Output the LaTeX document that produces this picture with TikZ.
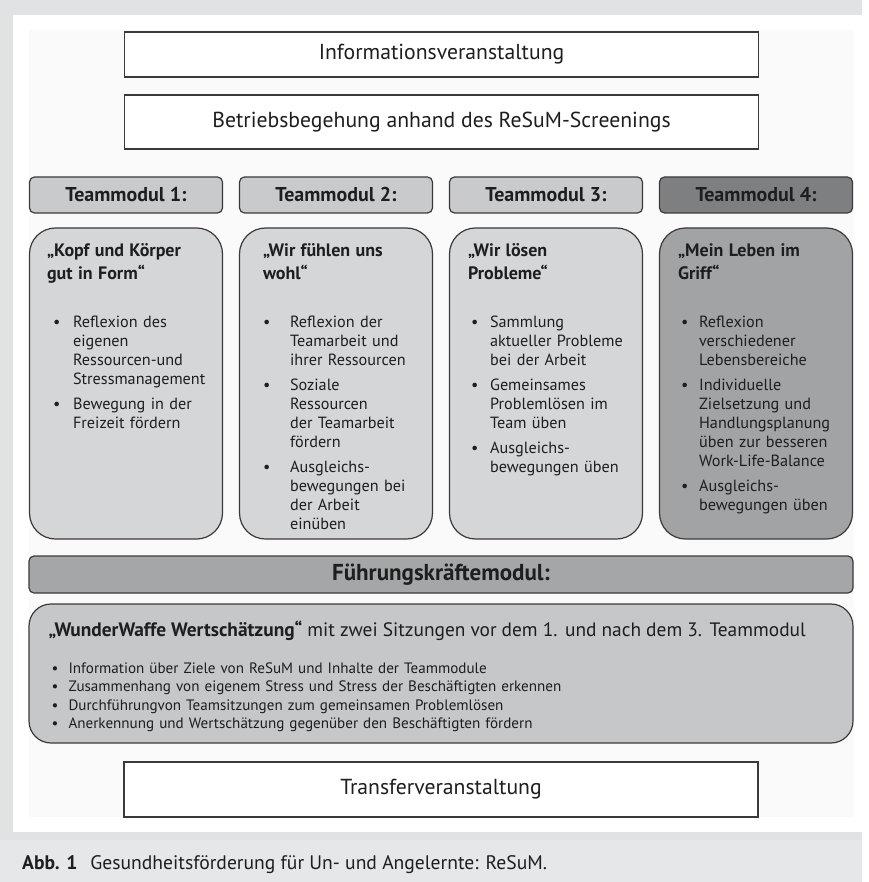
\documentclass[tikz,border=0pt]{standalone}
\usepackage{fontspec}
\setmainfont{PT Sans}
\usepackage{tikz}
\usetikzlibrary{positioning}
\definecolor{rahmen}{HTML}{E1E2E3}
\definecolor{leiste}{HTML}{E6E7E8}
\definecolor{grund}{HTML}{FAFAFA}
\definecolor{rand}{HTML}{3A3A3A}
\definecolor{schrift}{HTML}{1E1E1E}
\definecolor{kopfhell}{HTML}{C9CACC}
\definecolor{kopfdunkel}{HTML}{7E7F81}
\definecolor{modhell}{HTML}{D5D6D8}
\definecolor{moddunkel}{HTML}{A2A3A5}
\definecolor{fuehrung}{HTML}{A5A6A8}
\definecolor{wunder}{HTML}{C6C7C9}
\newcommand{\pkt}[3]{\par\noindent\hangindent=\dimexpr#1+#2\relax\hangafter=1\hspace*{#1}\makebox[#2][l]{\textbullet}#3\par}
\newcommand{\titel}[1]{{\noindent\bfseries\fontsize{18}{23}\selectfont#1\par}\vspace{29pt}}
\begin{document}
\begin{tikzpicture}[x=1pt, y=-1pt, node distance=210pt,
  box/.style={draw=rand, line width=1.2pt, fill=white, minimum width=634pt, text=schrift, font=\fontsize{21.7}{26}\selectfont},
  head/.style={draw=rand, line width=1.2pt, rounded corners=5pt, minimum width=193pt, minimum height=36pt, fill=kopfhell, text=schrift, font=\bfseries\fontsize{20}{23}\selectfont},
  modul/.style={draw=rand, line width=1.2pt, rounded corners=26pt, minimum width=193pt, minimum height=311pt, fill=modhell},
  inhalt/.style={anchor=north west, inner sep=0pt, text width=190pt, text=schrift, font=\fontsize{16.2}{19}\selectfont},
  liste/.style={anchor=north west, inner sep=0pt, text width=800pt, text=schrift, font=\fontsize{15.1}{18.5}\selectfont}]
\fill[rahmen] (0,0) rectangle (862,882);
\fill[white] (13,15) rectangle (862,832);
\fill[grund] (29,30) rectangle (854,817);
\fill[leiste] (0,840) rectangle (862,882);

\node[box, minimum height=45pt] (info) at (441.5,54.5) {Informationsveranstaltung};
\node[box, minimum height=54pt, below of=info, node distance=67.5pt] (begehung) {Betriebsbegehung anhand des ReSuM-Screenings};

\node[head] (h1) at (126,195) {Teammodul 1:};
\node[head, right of=h1] (h2) {Teammodul 2:};
\node[head, right of=h2] (h3) {Teammodul 3:};
\node[head, right of=h3, fill=kopfdunkel] (h4) {Teammodul 4:};

\node[modul, below of=h1, node distance=188.5pt] (m1) {};
\node[modul, below of=h2, node distance=188.5pt] (m2) {};
\node[modul, below of=h3, node distance=188.5pt] (m3) {};
\node[modul, below of=h4, node distance=188.5pt, fill=moddunkel] (m4) {};

\node[inhalt] (t1) at ([xshift=18pt, yshift=-16pt]m1.north west) {%
\titel{„Kopf und Körper\\gut in Form“}
\pkt{6pt}{20pt}{Reflexion des\newline eigenen\newline Ressourcen-und\newline Stressmanagement}\vspace{6pt}
\pkt{6pt}{20pt}{Bewegung in der\newline Freizeit fördern}};
\node[inhalt] (t2) at ([xshift=24pt, yshift=-16pt]m2.north west) {%
\titel{„Wir fühlen uns\\wohl“}
\pkt{0pt}{27pt}{Reflexion der\newline Teamarbeit und\newline ihrer Ressourcen}\vspace{6pt}
\pkt{0pt}{27pt}{Soziale\newline Ressourcen\newline der Teamarbeit\newline fördern}\vspace{6pt}
\pkt{0pt}{27pt}{Ausgleichs-\newline bewegungen bei\newline der Arbeit\newline einüben}};
\node[inhalt] (t3) at ([xshift=19pt, yshift=-16pt]m3.north west) {%
\titel{„Wir lösen\\Probleme“}
\pkt{3pt}{19pt}{Sammlung\newline aktueller Probleme\newline bei der Arbeit}\vspace{6pt}
\pkt{3pt}{19pt}{Gemeinsames\newline Problemlösen im\newline Team üben}\vspace{6pt}
\pkt{3pt}{19pt}{Ausgleichs-\newline bewegungen üben}};
\node[inhalt] (t4) at ([xshift=19pt, yshift=-16pt]m4.north west) {%
\titel{„Mein Leben im\\Griff“}
\pkt{3pt}{18pt}{Reflexion\newline verschiedener\newline Lebensbereiche}\vspace{6pt}
\pkt{3pt}{18pt}{Individuelle\newline Zielsetzung und\newline Handlungsplanung\newline üben zur besseren\newline Work-Life-Balance}\vspace{6pt}
\pkt{3pt}{18pt}{Ausgleichs-\newline bewegungen üben}};

\node[head, minimum width=824pt, minimum height=37pt, fill=fuehrung, font=\bfseries\fontsize{23}{26}\selectfont] (fk) at (441,574.5) {Führungskräftemodul:};
\node[modul, minimum width=824pt, minimum height=139pt, rounded corners=22pt, fill=wunder, below of=fk, node distance=99pt] (ww) {};
\node[liste] (wt) at ([xshift=20pt, yshift=-17pt]ww.north west) {%
{\noindent\fontsize{19.4}{22}\selectfont\textbf{„WunderWaffe Wertschätzung“} mit zwei Sitzungen vor dem 1. und nach dem 3. Teammodul\par}\vspace{18.5pt}
\pkt{3pt}{17pt}{Information über Ziele von ReSuM und Inhalte der Teammodule}
\pkt{3pt}{17pt}{Zusammenhang von eigenem Stress und Stress der Beschäftigten erkennen}
\pkt{3pt}{17pt}{Durchführungvon Teamsitzungen zum gemeinsamen Problemlösen}
\pkt{3pt}{17pt}{Anerkennung und Wertschätzung gegenüber den Beschäftigten fördern}};

\node[box, minimum width=634pt, minimum height=55pt, below of=ww, node distance=116pt] (transfer) {Transferveranstaltung};

\node[anchor=base west, inner sep=0pt, text=schrift, font=\fontsize{19.6}{24}\selectfont] (abb) at (22,869) {\textbf{Abb. 1}\hspace{13pt}Gesundheitsförderung für Un- und Angelernte: ReSuM.};
\end{tikzpicture}
\end{document}
